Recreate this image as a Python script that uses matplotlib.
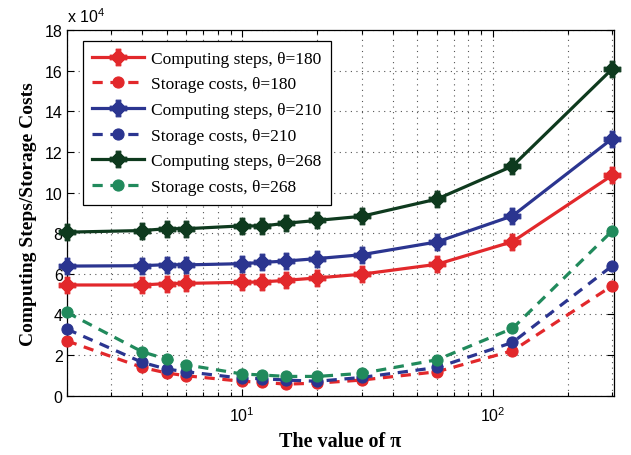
import numpy as np
import matplotlib
matplotlib.use('Agg')
import matplotlib.pyplot as plt
from matplotlib.path import Path
from matplotlib.ticker import FixedLocator, LogLocator, NullFormatter

# plot settings
matplotlib.rcParams.update({
    'font.family': 'Liberation Sans',
    'mathtext.fontset': 'custom',
    'mathtext.rm': 'Liberation Sans',
    'mathtext.it': 'Liberation Sans',
    'xtick.direction': 'in',
    'ytick.direction': 'in',
})

# data (y in units of 1e4)
pi_vals = [2, 4, 5, 6, 10, 12, 15, 20, 30, 60, 120, 300]
comp_180 = [5.45, 5.45, 5.52, 5.53, 5.58, 5.60, 5.68, 5.80, 5.98, 6.47, 7.58, 10.85]
stor_180 = [2.70, 1.39, 1.12, 0.98, 0.71, 0.66, 0.57, 0.62, 0.77, 1.18, 2.21, 5.41]
comp_210 = [6.38, 6.40, 6.45, 6.44, 6.50, 6.56, 6.63, 6.75, 6.94, 7.57, 8.85, 12.65]
stor_210 = [3.28, 1.64, 1.31, 1.18, 0.86, 0.84, 0.77, 0.71, 0.90, 1.39, 2.62, 6.39]
comp_268 = [8.05, 8.13, 8.22, 8.22, 8.36, 8.35, 8.49, 8.63, 8.83, 9.68, 11.30, 16.08]
stor_268 = [4.10, 2.16, 1.80, 1.52, 1.07, 1.02, 0.95, 0.95, 1.10, 1.77, 3.31, 8.11]
labels = ['Computing steps, \u03b8=180', 'Storage costs, \u03b8=180',
          'Computing steps, \u03b8=210', 'Storage costs, \u03b8=210',
          'Computing steps, \u03b8=268', 'Storage costs, \u03b8=268']

red = '#e2282b'
blue = '#2b3590'
dgreen = '#0e3a1e'
green = '#218a5c'

# round marker with plus arms (circle + cross)
t = np.linspace(0, 2 * np.pi, 40)
circ = np.column_stack([0.68 * np.cos(t), 0.68 * np.sin(t)])
a, w = 1.0, 0.28
cross = np.array([[w, -w], [a, -w], [a, w], [w, w], [w, a], [-w, a], [-w, w],
                  [-a, w], [-a, -w], [-w, -w], [-w, -a], [w, -a], [w, -w]])
plus_circ = Path.make_compound_path(Path(circ, closed=True), Path(cross, closed=True))

fig = plt.figure(figsize=(6.31, 4.56), dpi=100)
ax = fig.add_axes([0.106, 0.130, 0.867, 0.802])

lw = 2.3
dash = (0, (3.2, 2.4))
series = [
    (comp_180, red, '-', plus_circ, 12),
    (stor_180, red, dash, 'o', 8),
    (comp_210, blue, '-', plus_circ, 12),
    (stor_210, blue, dash, 'o', 8),
    (comp_268, dgreen, '-', plus_circ, 12),
    (stor_268, green, dash, 'o', 8),
]
for (vals, c, ls, mk, ms), lab in zip(series, labels):
    ax.plot(pi_vals, vals, color=c, linestyle=ls, linewidth=lw, marker=mk,
            markersize=ms, markeredgecolor=c, markeredgewidth=0.8, label=lab,
            clip_on=False, zorder=3)

ax.set_xscale('log')
ax.set_xlim(2, 305)
ax.set_ylim(0, 18)
ax.set_yticks(np.arange(0, 19, 2))
ax.xaxis.set_major_locator(FixedLocator([10, 100]))
ax.set_xticklabels([r'$\mathregular{10^{1}}$', r'$\mathregular{10^{2}}$'])
ax.xaxis.set_minor_locator(LogLocator(base=10, subs=np.arange(2, 10)))
ax.xaxis.set_minor_formatter(NullFormatter())
ax.tick_params(which='both', top=True, right=True, labelsize=11.5, width=0.8)
ax.tick_params(which='major', length=5)
ax.tick_params(which='minor', length=3)
ax.tick_params(axis='x', which='major', pad=7)
ax.tick_params(axis='y', which='major', pad=3)

ax.grid(True, which='major', linestyle=(0, (1, 4)), color='#555555', linewidth=0.8)
ax.grid(True, which='minor', axis='x', linestyle=(0, (1, 4)), color='#555555', linewidth=0.8)
ax.set_axisbelow(True)
for s in ax.spines.values():
    s.set_linewidth(0.9)

ax.set_xlabel('The value of \u03c0', fontfamily='Liberation Serif', fontweight='bold',
              fontsize=14.5, labelpad=5)
ax.set_ylabel('Computing Steps/Storage Costs', fontfamily='Liberation Serif',
              fontweight='bold', fontsize=14, labelpad=6)
ax.text(0.0, 1.015, r'x $\mathregular{10^{4}}$', transform=ax.transAxes,
        fontsize=11.5, ha='left', va='bottom')

leg = ax.legend(loc='upper left', bbox_to_anchor=(0.029, 0.97), fancybox=False,
                edgecolor='black', framealpha=1, handlelength=3.0,
                prop={'family': 'Liberation Serif', 'size': 12.5},
                labelspacing=0.55, borderpad=0.55, handletextpad=0.4,
                borderaxespad=0)
leg.get_frame().set_linewidth(0.9)

fig.savefig('out.png', dpi=100)
